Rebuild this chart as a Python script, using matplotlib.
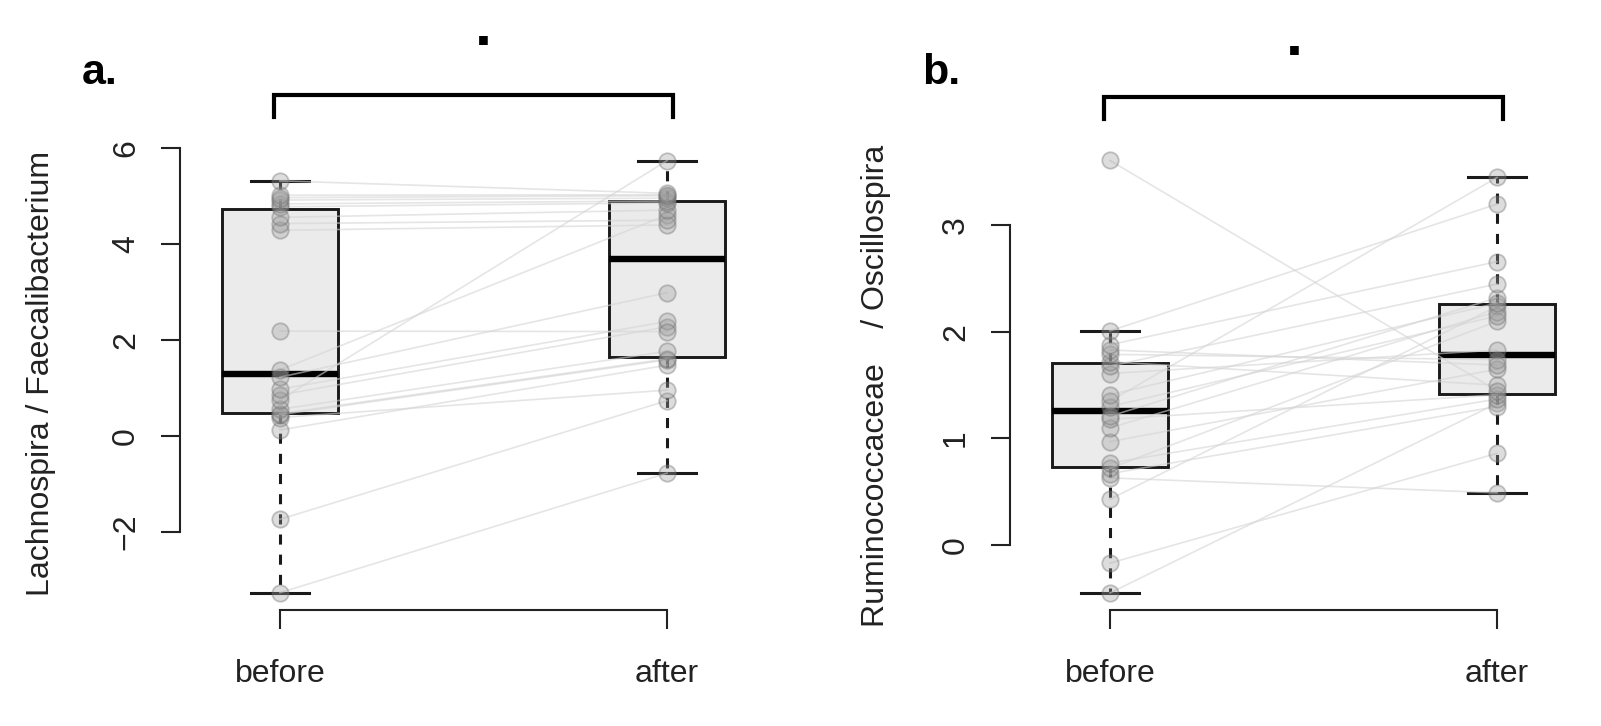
import matplotlib
matplotlib.use("Agg")
import matplotlib.pyplot as plt
from matplotlib.lines import Line2D

plt.rcParams['font.family'] = ['Liberation Sans', 'DejaVu Sans']

# ------------------ data (paired: same subject before / after) ------------------
groups = ["before", "after"]

before_a = [-3.27, -1.74, 0.12, 0.38, 0.44, 0.46, 0.55, 0.75, 0.85, 0.97, 1.22,
            1.37, 2.18, 4.28, 4.42, 4.55, 4.77, 4.83, 4.91, 4.96, 5.01, 5.31]
after_a = [-0.78, 0.73, 1.47, 0.95, 1.58, 1.60, 1.76, 5.73, 2.27, 2.38, 2.98,
           4.60, 2.17, 4.39, 4.49, 4.70, 4.85, 4.89, 4.95, 5.00, 5.02, 5.05]

before_b = [-0.45, -0.17, 0.43, 0.63, 0.67, 0.72, 0.77, 0.97, 1.10, 1.18, 1.21,
            1.30, 1.35, 1.41, 1.61, 1.68, 1.72, 1.79, 1.83, 1.88, 2.01, 3.61]
after_b = [1.33, 0.86, 2.24, 0.49, 1.30, 2.10, 1.37, 1.65, 2.19, 1.41, 2.32,
           2.15, 3.45, 2.27, 1.83, 2.45, 1.50, 1.74, 1.69, 2.66, 3.20, 1.45]

yticks_a = [-2, 0, 2, 4, 6]
yticks_b = [0, 1, 2, 3]

W, H = 1601, 726
fig = plt.figure(figsize=(W / 100, H / 100), dpi=100)
FS = 23
INK = '#222222'


def px_axes(left, top, right, bottom):
    return fig.add_axes([left / W, 1 - bottom / H, (right - left) / W, (bottom - top) / H])


def panel(spine_x, tick1, tick2, before, after, yticks, ylim, ylabel, ylab_xy,
          tag, tag_x, dot_xy, br_y, br_leg):
    top, bottom = 143.4, 610
    unit = tick2 - tick1
    right = tick2 + (tick1 - spine_x)
    ax = px_axes(spine_x, top, right, bottom)
    ax.set_xlim(1 - (tick1 - spine_x) / unit, 2 + (right - tick2) / unit)
    ax.set_ylim(*ylim)

    ax.boxplot([before, after], positions=[1, 2], widths=0.3, capwidths=0.15,
               whis=1.5, showfliers=False, patch_artist=True,
               boxprops=dict(facecolor='#ebebeb', edgecolor='#1a1a1a', linewidth=2.1),
               medianprops=dict(color='black', linewidth=4.6, solid_capstyle='butt'),
               whiskerprops=dict(color='#1a1a1a', linewidth=2.2,
                                 linestyle=(0, (3.3, 3.3)), dash_capstyle='butt'),
               capprops=dict(color='#1a1a1a', linewidth=2.2), zorder=1)

    for b, a in zip(before, after):
        ax.plot([1, 2], [b, a], color='#d4d4d4', alpha=0.6, lw=1.2, zorder=2)
    for pos, vals in zip([1, 2], [before, after]):
        ax.scatter([pos] * len(vals), vals, s=140, facecolor=(0.62, 0.62, 0.62, 0.35),
                   edgecolor=(0.42, 0.42, 0.42, 0.38), linewidth=1.3, zorder=3)

    for s in ['top', 'right']:
        ax.spines[s].set_visible(False)
    ax.spines['left'].set_bounds(yticks[0], yticks[-1])
    ax.spines['bottom'].set_bounds(1, 2)
    for s in ['left', 'bottom']:
        ax.spines[s].set_linewidth(1.5)
        ax.spines[s].set_color(INK)
    ax.set_yticks(yticks)
    ax.set_yticklabels([str(t).replace('-', '\u2212') for t in yticks], rotation=90,
                       va='center', fontsize=FS, color=INK)
    ax.set_xticks([1, 2])
    ax.set_xticklabels(groups, fontsize=FS, color=INK)
    ax.tick_params(axis='y', length=14, width=1.5, pad=14, color=INK)
    ax.tick_params(axis='x', length=14, width=1.5, pad=21, color=INK)
    ax.patch.set_visible(False)

    # significance bracket
    hgt = bottom - top
    yb = (bottom - br_y) / hgt
    yl = (bottom - br_leg) / hgt
    tr = ax.get_xaxis_transform()
    ax.add_line(Line2D([0.985, 0.985, 2.015, 2.015], [yl, yb, yb, yl], color='black',
                       lw=3.0, transform=tr, clip_on=False, solid_joinstyle='miter'))
    fig.text(dot_xy[0] / W, 1 - dot_xy[1] / H, '.', ha='center', va='baseline',
             fontsize=44, fontweight='bold')

    fig.text(ylab_xy[0] / W, 1 - ylab_xy[1] / H, ylabel, rotation=90, ha='center',
             va='center', fontsize=FS, color=INK)
    fig.text(tag_x / W, 1 - 84 / H, tag, ha='left', va='baseline', fontsize=31,
             fontweight='bold')
    return ax


panel(180, 280, 667, before_a, after_a, yticks_a, (-3.63, 6.09),
      'Lachnospira / Faecalibacterium', (41, 373), 'a.', 82, (483, 45), 95, 117)
panel(1010, 1110, 1497, before_b, after_b, yticks_b, (-0.61, 3.77),
      'Ruminococcaceae    / Oscillospira', (876, 386), 'b.', 922, (1294, 55), 97, 119)

fig.savefig('out.png', dpi=100)
